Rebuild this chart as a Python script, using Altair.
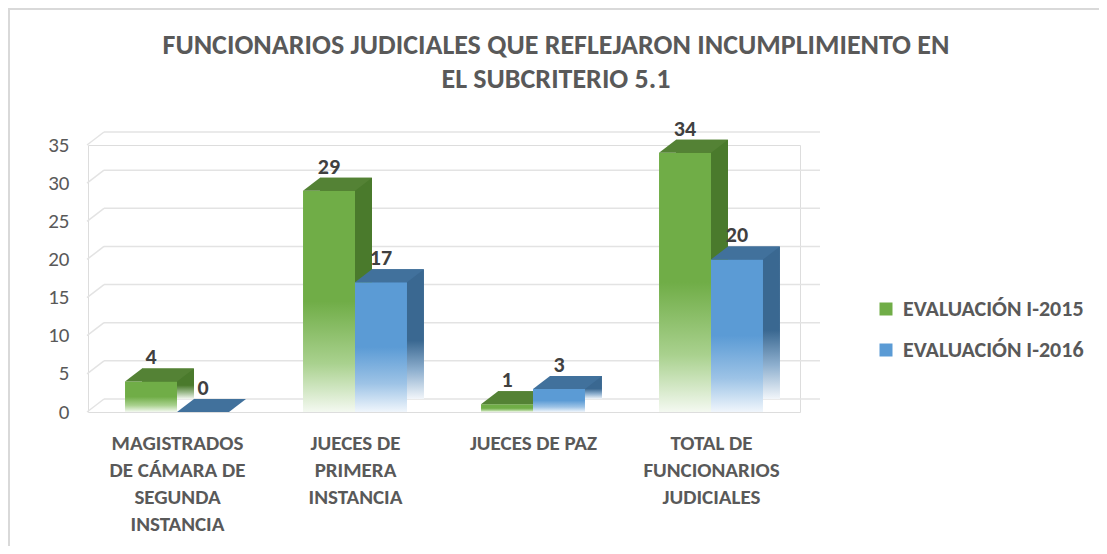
import altair as alt
import pandas as pd

categories = [
    "MAGISTRADOS DE CÁMARA DE SEGUNDA INSTANCIA",
    "JUECES DE PRIMERA INSTANCIA",
    "JUECES DE PAZ",
    "TOTAL DE FUNCIONARIOS JUDICIALES",
]
category_lines = [
    ["MAGISTRADOS", "DE CÁMARA DE", "SEGUNDA", "INSTANCIA"],
    ["JUECES DE", "PRIMERA", "INSTANCIA"],
    ["JUECES DE PAZ"],
    ["TOTAL DE", "FUNCIONARIOS", "JUDICIALES"],
]
series = ["EVALUACIÓN I-2015", "EVALUACIÓN I-2016"]
values_2015 = [4, 29, 1, 34]
values_2016 = [0, 17, 3, 20]
y_ticks = [0, 5, 10, 15, 20, 25, 30, 35]

title_lines = [
    "FUNCIONARIOS JUDICIALES QUE REFLEJARON INCUMPLIMIENTO EN",
    "EL SUBCRITERIO 5.1",
]

rows = []
for ci, (c, a, b) in enumerate(zip(categories, values_2015, values_2016)):
    rows.append({"cat": c, "ci": ci, "series": series[0], "si": 0, "value": a})
    rows.append({"cat": c, "ci": ci, "series": series[1], "si": 1, "value": b})
df = pd.DataFrame(rows)
ticks_df = pd.DataFrame({"tick": y_ticks})

FONT = "Carlito, Calibri, Lato, sans-serif"
TXT = "#595959"
DX, DY = 17, -13
W = 0.292  # width of one bar as a share of the category step

# multi-line category labels
expr = "''"
for ci, lines in reversed(list(enumerate(category_lines))):
    arr = "[" + ",".join("'" + l + "'" for l in lines) + "]"
    expr = f"datum.value == {ci} ? {arr} : ({expr})"

x_scale = alt.Scale(domain=[-0.5, len(categories) - 0.5], nice=False, zero=False)
x_axis = alt.Axis(
    title=None, values=list(range(len(categories))), labelExpr=expr, labelFont=FONT,
    labelFontSize=21, labelFontWeight="bold", labelColor=TXT,
    labelLineHeight=27, labelPadding=20, labelBaseline="top", labelAngle=0,
    domain=False, ticks=False, grid=False, labelLimit=300, labelOverlap=False,
    labelFlush=False,
)
y_scale = alt.Scale(domain=[0, 35], nice=False, zero=True)
y_axis = alt.Axis(
    title=None, values=y_ticks, grid=False, domain=False, ticks=False,
    labelFont=FONT, labelFontSize=21, labelColor=TXT, labelPadding=19,
    labelOverlap=False, labelFlush=False,
)
y_enc = alt.Y("value:Q", scale=y_scale, axis=y_axis)
y_tick = alt.Y("tick:Q", scale=y_scale, axis=y_axis)


def grad(c_top, c_mid, c_bot, mid=0.5):
    return alt.Gradient(
        gradient="linear", x1=0, x2=0, y1=0, y2=1,
        stops=[
            alt.GradientStop(offset=0, color=c_top),
            alt.GradientStop(offset=mid, color=c_top),
            alt.GradientStop(offset=0.78, color=c_mid),
            alt.GradientStop(offset=1, color=c_bot),
        ],
    )


styles = {
    series[0]: dict(front=grad("#70ad47", "#a9d18e", "#f4f9f1"),
                    side=grad("#4a7a2c", "#9ab98a", "#f4f8f2", 0.55),
                    top="#548235"),
    series[1]: dict(front=grad("#5b9bd5", "#9dc3e6", "#f0f6fc"),
                    side=grad("#3a6891", "#8fb0cf", "#f2f6fa", 0.55),
                    top="#41719c"),
}

TOP_SHAPE = f"M -26 0 L 26 0 L {26+DX} {DY} L {-26+DX} {DY} Z"

base = alt.Chart(df).transform_calculate(
    x0=f"datum.ci + (datum.si - 1) * {W}",
    x1=f"datum.ci + datum.si * {W}",
    xc=f"datum.ci + (datum.si - 0.5) * {W}",
)

grid_h = alt.Chart(ticks_df).mark_rule(color="#e3e3e3", strokeWidth=1.5, yOffset=DY, y2Offset=DY).encode(
    x=alt.value(DX - 1), x2=alt.value(732), y=y_tick, y2="tick:Q"
)
grid_d = alt.Chart(ticks_df).mark_rule(color="#e3e3e3", strokeWidth=1.5, y2Offset=DY).encode(
    x=alt.value(-1), x2=alt.value(DX - 1), y=y_tick, y2="tick:Q"
)

# invisible layer that carries the legend and the x axis
legend_layer = base.mark_square(opacity=0).encode(
    x=alt.X("xc:Q", scale=x_scale, axis=x_axis),
    y=y_enc,
    color=alt.Color(
        "series:N", sort=series,
        scale=alt.Scale(domain=series, range=["#70ad47", "#5b9bd5"]),
        legend=alt.Legend(
            title=None, orient="none", legendX=787, legendY=153,
            symbolType="square", symbolSize=169, symbolOpacity=1,
            symbolStrokeWidth=0, labelFont=FONT, labelFontSize=22,
            labelFontWeight="bold", labelColor=TXT, rowPadding=19,
            labelOffset=6, labelLimit=300,
        ),
    ),
)

layers = [grid_h, grid_d, legend_layer]
for s in series:
    st = styles[s]
    sub = base.transform_filter(alt.datum.series == s)
    side = sub.mark_bar(
        color=st["side"], xOffset=DX, x2Offset=DX, yOffset=DY, y2Offset=DY
    ).encode(x=alt.X("x0:Q", scale=x_scale, axis=x_axis), x2="x1:Q", y=y_enc, y2=alt.datum(0))
    front = sub.mark_bar(color=st["front"]).encode(
        x=alt.X("x0:Q", scale=x_scale, axis=x_axis), x2="x1:Q", y=y_enc, y2=alt.datum(0)
    )
    top = sub.mark_point(
        shape=TOP_SHAPE, size=4, filled=True, opacity=1, color=st["top"], strokeWidth=0
    ).encode(x=alt.X("xc:Q", scale=x_scale, axis=x_axis), y=y_enc)
    layers += [side, front, top]

labels = base.mark_text(
    font=FONT, fontSize=22, fontWeight="bold", color="#404040", dy=-24, baseline="middle"
).encode(x=alt.X("xc:Q", scale=x_scale, axis=x_axis), y=y_enc, text="value:Q")
layers.append(labels)

border_top = alt.Chart(ticks_df).mark_rule(color="#d9d9d9", strokeWidth=2).encode(
    x=alt.value(-80), x2=alt.value(1011), y=alt.value(-136)
)
border_left = alt.Chart(ticks_df).mark_rule(color="#d9d9d9", strokeWidth=2).encode(
    x=alt.value(-79), y=alt.value(-137), y2=alt.value(401)
)
layers += [border_top, border_left]

chart = alt.layer(*layers).properties(
    width=712,
    height=267,
    autosize=alt.AutoSizeParams(type="none"),
    padding={"left": 80, "top": 137, "right": 299, "bottom": 134},
    title=alt.TitleParams(
        text=title_lines, font=FONT, fontSize=28, fontWeight="bold", color=TXT,
        anchor="middle", frame="group", dx=112, offset=-87, lineHeight=34,
    ),
).configure_view(stroke=None).configure(background="white")

chart.save("out.html", embed_options={"renderer": "svg", "actions": False})
